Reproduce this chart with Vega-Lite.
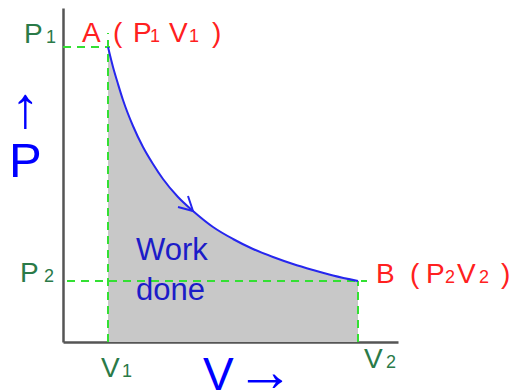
{
  "$schema": "https://vega.github.io/schema/vega-lite/v6.json",
  "width": 335,
  "height": 334,
  "autosize": "none",
  "padding": {"left": 63, "top": 8, "right": 118, "bottom": 50},
  "background": "white",
  "config": {"view": {"stroke": null}, "font": "Liberation Sans"},
  "encoding": {
    "x": {"field": "V", "type": "quantitative", "scale": {"domain": [0, 335], "nice": false, "zero": false},
      "axis": {"domainColor": "#555555", "domainWidth": 2.5, "ticks": false, "labels": false, "grid": false, "title": null}},
    "y": {"field": "P", "type": "quantitative", "scale": {"domain": [0, 334], "nice": false, "zero": false},
      "axis": {"domainColor": "#555555", "domainWidth": 2.5, "ticks": false, "labels": false, "grid": false, "title": null}}
  },
  "layer": [
    {
      "data": {"values": [
        {"V": 45, "P": 295}, {"V": 50, "P": 275}, {"V": 55, "P": 258}, {"V": 60, "P": 242},
        {"V": 70, "P": 216}, {"V": 80, "P": 195}, {"V": 90, "P": 178}, {"V": 100, "P": 163},
        {"V": 115, "P": 145}, {"V": 130, "P": 131}, {"V": 150, "P": 115}, {"V": 170, "P": 103},
        {"V": 190, "P": 93}, {"V": 210, "P": 85}, {"V": 230, "P": 78}, {"V": 250, "P": 72},
        {"V": 270, "P": 66.5}, {"V": 295, "P": 61}
      ]},
      "mark": {"type": "area", "color": "#c8c8c8", "interpolate": "monotone"},
      "encoding": {"y2": {"datum": 0}}
    },
    {
      "data": {"values": [
        {"seg": "p1", "V": 0, "P": 295}, {"seg": "p1", "V": 47, "P": 295},
        {"seg": "v1", "V": 45, "P": 309}, {"seg": "v1", "V": 45, "P": 0},
        {"seg": "p2", "V": 4, "P": 61}, {"seg": "p2", "V": 304, "P": 61},
        {"seg": "v2", "V": 295, "P": 61}, {"seg": "v2", "V": 295, "P": 0}
      ]},
      "mark": {"type": "line", "color": "#33e033", "strokeWidth": 2, "strokeDash": [8, 6]},
      "encoding": {"detail": {"field": "seg"}, "order": {"field": "P"}}
    },
    {
      "data": {"values": [
        {"V": 45, "P": 295}, {"V": 50, "P": 275}, {"V": 55, "P": 258}, {"V": 60, "P": 242},
        {"V": 70, "P": 216}, {"V": 80, "P": 195}, {"V": 90, "P": 178}, {"V": 100, "P": 163},
        {"V": 115, "P": 145}, {"V": 130, "P": 131}, {"V": 150, "P": 115}, {"V": 170, "P": 103},
        {"V": 190, "P": 93}, {"V": 210, "P": 85}, {"V": 230, "P": 78}, {"V": 250, "P": 72},
        {"V": 270, "P": 66.5}, {"V": 295, "P": 61}
      ]},
      "mark": {"type": "line", "color": "#2626ee", "strokeWidth": 2, "interpolate": "monotone"}
    },
    {
      "data": {"values": [
        {"i": 1, "V": 115, "P": 135}, {"i": 2, "V": 130, "P": 131}, {"i": 3, "V": 125, "P": 146}
      ]},
      "mark": {"type": "line", "color": "#2626ee", "strokeWidth": 2},
      "encoding": {"order": {"field": "i"}}
    },
    {
      "data": {"values": [
        {"t": "P", "V": -39, "P": 299}, {"t": "P", "V": -43, "P": 60},
        {"t": "V", "V": 38, "P": -35}, {"t": "V", "V": 301, "P": -26}
      ]},
      "mark": {"type": "text", "align": "left", "baseline": "alphabetic", "fontSize": 28, "color": "#2a7a48", "clip": false},
      "encoding": {"text": {"field": "t"}}
    },
    {
      "data": {"values": [
        {"t": "1", "V": -17, "P": 299}, {"t": "2", "V": -19, "P": 60},
        {"t": "1", "V": 59, "P": -35}, {"t": "2", "V": 323, "P": -26}
      ]},
      "mark": {"type": "text", "align": "left", "baseline": "alphabetic", "fontSize": 18, "color": "#2a7a48", "clip": false},
      "encoding": {"text": {"field": "t"}}
    },
    {
      "data": {"values": [
        {"t": "A", "V": 19, "P": 300}, {"t": "(", "V": 50, "P": 300}, {"t": "P", "V": 70, "P": 300},
        {"t": "V", "V": 106, "P": 300}, {"t": ")", "V": 149, "P": 300},
        {"t": "B", "V": 313, "P": 59}, {"t": "(", "V": 347, "P": 59}, {"t": "P", "V": 363, "P": 59},
        {"t": "V", "V": 394, "P": 59}, {"t": ")", "V": 438, "P": 59}
      ]},
      "mark": {"type": "text", "align": "left", "baseline": "alphabetic", "fontSize": 28, "color": "#ff2020", "clip": false},
      "encoding": {"text": {"field": "t"}}
    },
    {
      "data": {"values": [
        {"t": "1", "V": 87, "P": 300}, {"t": "1", "V": 126, "P": 300},
        {"t": "2", "V": 382, "P": 59}, {"t": "2", "V": 416, "P": 59}
      ]},
      "mark": {"type": "text", "align": "left", "baseline": "alphabetic", "fontSize": 18, "color": "#ff2020", "clip": false},
      "encoding": {"text": {"field": "t"}}
    },
    {
      "data": {"values": [
        {"t": "Work", "V": 73, "P": 82}, {"t": "done", "V": 73, "P": 42}
      ]},
      "mark": {"type": "text", "align": "left", "baseline": "alphabetic", "fontSize": 31, "color": "#1c1cc8", "clip": false},
      "encoding": {"text": {"field": "t"}}
    },
    {
      "data": {"values": [
        {"t": "V", "V": 140, "P": -48}
      ]},
      "mark": {"type": "text", "align": "left", "baseline": "alphabetic", "fontSize": 46, "color": "#0000ff", "clip": false},
      "encoding": {"text": {"field": "t"}}
    },
    {
      "data": {"values": [
        {"t": "P", "V": -54, "P": 165}
      ]},
      "mark": {"type": "text", "align": "left", "baseline": "alphabetic", "fontSize": 49, "color": "#0000ff", "clip": false},
      "encoding": {"text": {"field": "t"}}
    },
    {
      "data": {"values": [
        {"t": "→", "V": 173, "P": -49}, {"t": "↑", "V": -52, "P": 215}
      ]},
      "mark": {"type": "text", "align": "left", "baseline": "alphabetic", "fontSize": 58, "color": "#0000ff", "clip": false},
      "encoding": {"text": {"field": "t"}}
    }
  ]
}
